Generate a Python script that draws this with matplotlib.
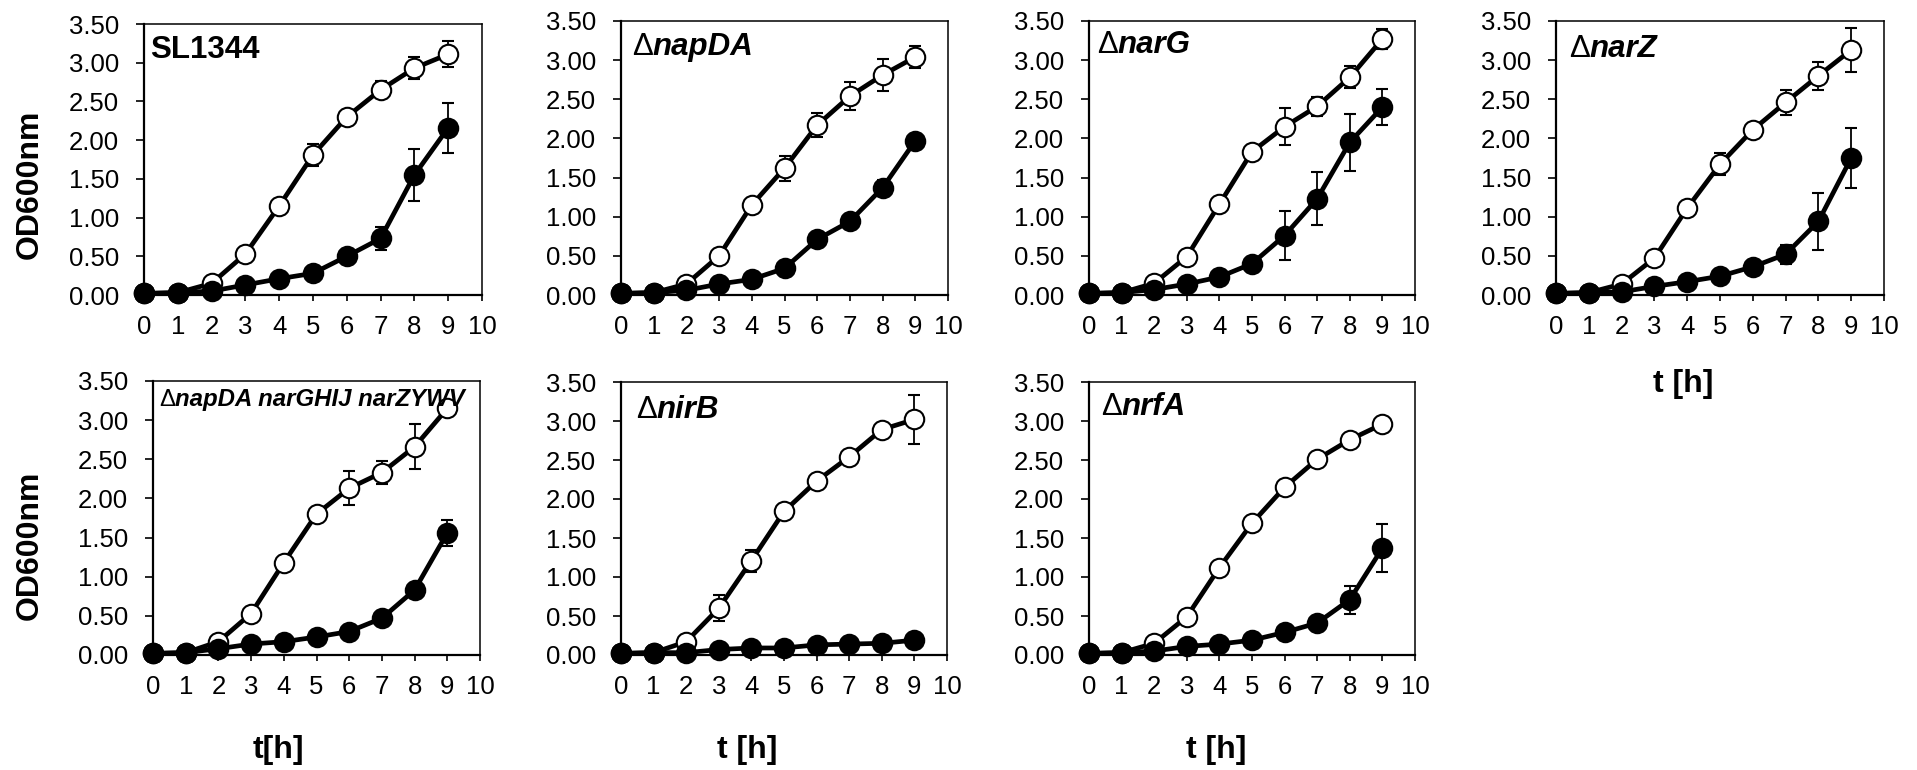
import matplotlib
matplotlib.use("Agg")
import matplotlib.pyplot as plt

plt.rcParams['font.family'] = ['Liberation Sans', 'DejaVu Sans']

time_h = [0, 1, 2, 3, 4, 5, 6, 7, 8, 9]

strain_names = ["SL1344", "napDA", "narG", "narZ", "napDA narGHIJ narZYWV", "nirB", "nrfA"]
strain_delta = [False, True, True, True, True, True, True]

open_sl1344 = [0.02, 0.03, 0.15, 0.53, 1.15, 1.81, 2.30, 2.65, 2.93, 3.11]
open_sl1344_err = [0.01, 0.01, 0.02, 0.03, 0.04, 0.14, 0.05, 0.11, 0.14, 0.17]
filled_sl1344 = [0.02, 0.03, 0.05, 0.13, 0.21, 0.28, 0.50, 0.73, 1.55, 2.16]
filled_sl1344_err = [0.01, 0.01, 0.01, 0.02, 0.03, 0.04, 0.10, 0.15, 0.33, 0.32]

open_napda = [0.02, 0.03, 0.14, 0.50, 1.15, 1.62, 2.17, 2.54, 2.81, 3.04]
open_napda_err = [0.01, 0.01, 0.02, 0.03, 0.03, 0.16, 0.15, 0.18, 0.21, 0.14]
filled_napda = [0.02, 0.03, 0.06, 0.14, 0.20, 0.34, 0.71, 0.94, 1.37, 1.97]
filled_napda_err = [0.01, 0.01, 0.01, 0.02, 0.03, 0.04, 0.05, 0.05, 0.10, 0.05]

open_narg = [0.02, 0.03, 0.15, 0.49, 1.16, 1.83, 2.15, 2.41, 2.78, 3.27]
open_narg_err = [0.01, 0.01, 0.02, 0.03, 0.03, 0.05, 0.24, 0.12, 0.14, 0.13]
filled_narg = [0.02, 0.03, 0.07, 0.14, 0.23, 0.40, 0.76, 1.23, 1.95, 2.40]
filled_narg_err = [0.01, 0.01, 0.01, 0.02, 0.03, 0.06, 0.31, 0.34, 0.36, 0.23]

open_narz = [0.02, 0.03, 0.14, 0.47, 1.11, 1.67, 2.11, 2.46, 2.80, 3.13]
open_narz_err = [0.01, 0.01, 0.02, 0.03, 0.04, 0.14, 0.04, 0.16, 0.18, 0.28]
filled_narz = [0.02, 0.03, 0.04, 0.11, 0.17, 0.24, 0.36, 0.52, 0.94, 1.75]
filled_narz_err = [0.01, 0.01, 0.01, 0.02, 0.02, 0.03, 0.04, 0.12, 0.36, 0.38]

open_triple = [0.02, 0.03, 0.17, 0.53, 1.18, 1.80, 2.13, 2.33, 2.66, 3.15]
open_triple_err = [0.01, 0.01, 0.02, 0.03, 0.03, 0.04, 0.22, 0.15, 0.29, 0.05]
filled_triple = [0.02, 0.03, 0.08, 0.14, 0.17, 0.23, 0.30, 0.47, 0.83, 1.56]
filled_triple_err = [0.01, 0.01, 0.01, 0.02, 0.02, 0.03, 0.04, 0.05, 0.05, 0.17]

open_nirb = [0.02, 0.03, 0.17, 0.60, 1.21, 1.84, 2.23, 2.54, 2.89, 3.02]
open_nirb_err = [0.01, 0.01, 0.02, 0.17, 0.14, 0.06, 0.04, 0.04, 0.04, 0.31]
filled_nirb = [0.02, 0.03, 0.03, 0.07, 0.09, 0.09, 0.13, 0.14, 0.15, 0.19]
filled_nirb_err = [0.01, 0.01, 0.01, 0.01, 0.01, 0.01, 0.02, 0.02, 0.02, 0.02]

open_nrfa = [0.02, 0.03, 0.15, 0.49, 1.12, 1.69, 2.15, 2.51, 2.76, 2.96]
open_nrfa_err = [0.01, 0.01, 0.02, 0.03, 0.03, 0.04, 0.06, 0.04, 0.04, 0.04]
filled_nrfa = [0.02, 0.03, 0.05, 0.11, 0.14, 0.19, 0.29, 0.41, 0.71, 1.37]
filled_nrfa_err = [0.01, 0.01, 0.01, 0.02, 0.02, 0.03, 0.08, 0.04, 0.18, 0.31]

open_series = [open_sl1344, open_napda, open_narg, open_narz, open_triple, open_nirb, open_nrfa]
open_errs = [open_sl1344_err, open_napda_err, open_narg_err, open_narz_err, open_triple_err, open_nirb_err, open_nrfa_err]
filled_series = [filled_sl1344, filled_napda, filled_narg, filled_narz, filled_triple, filled_nirb, filled_nrfa]
filled_errs = [filled_sl1344_err, filled_napda_err, filled_narg_err, filled_narz_err, filled_triple_err, filled_nirb_err, filled_nrfa_err]

x_ticks = [0, 1, 2, 3, 4, 5, 6, 7, 8, 9, 10]
y_ticks = [0.0, 0.5, 1.0, 1.5, 2.0, 2.5, 3.0, 3.5]
y_tick_labels = ["0.00", "0.50", "1.00", "1.50", "2.00", "2.50", "3.00", "3.50"]

W, H = 1917, 770
fig = plt.figure(figsize=(W / 100, H / 100), dpi=100)

# axes boxes in pixels: left, right, top, bottom
boxes = [
    (144, 482, 24, 295),
    (621, 948, 21, 295),
    (1089, 1415, 21, 295),
    (1556, 1884, 21, 295),
    (153, 480, 381, 655),
    (621, 947, 382, 655),
    (1089, 1415, 382, 655),
]
title_offsets = [(6, 34), (11, 34), (8, 32), (13, 36), (6, 25), (15, 36), (12, 33)]
title_sizes = [22.5, 22.5, 22.5, 22.5, 17.3, 22.5, 22.5]

for i, (l, r, t, b) in enumerate(boxes):
    ax = fig.add_axes([l / W, 1 - b / H, (r - l) / W, (b - t) / H])
    ax.errorbar(time_h, open_series[i], yerr=open_errs[i], color='black', lw=3.4,
                marker='o', ms=14, mfc='white', mec='black', mew=1.5,
                ecolor='black', elinewidth=1.3, capsize=4.5, capthick=1.3,
                clip_on=False, zorder=3)
    ax.errorbar(time_h, filled_series[i], yerr=filled_errs[i], color='black', lw=3.4,
                marker='o', ms=14, mfc='black', mec='black', mew=1.5,
                ecolor='black', elinewidth=1.3, capsize=4.5, capthick=1.3,
                clip_on=False, zorder=4)
    ax.set_xlim(0, 10)
    ax.set_ylim(0, 3.5)
    ax.set_xticks(x_ticks)
    ax.set_yticks(y_ticks)
    ax.set_yticklabels(y_tick_labels)
    ax.tick_params(axis='x', direction='out', length=4.5, width=1.2, labelsize=18.5, pad=10)
    ax.tick_params(axis='y', direction='out', length=6, width=1.2, labelsize=18.5, pad=12)
    for side in ['left', 'bottom']:
        ax.spines[side].set_linewidth(1.6)
    for side in ['top', 'right']:
        ax.spines[side].set_linewidth(1.1)

    dx, dy = title_offsets[i]
    fs = title_sizes[i]
    if strain_delta[i]:
        t1 = ax.annotate('Δ', xy=(0, 1), xycoords='axes fraction', xytext=(dx, -dy),
                         textcoords='offset pixels', ha='left', va='baseline', fontsize=fs, zorder=5)
        ax.annotate(strain_names[i], xy=(1, 0), xycoords=t1, ha='left', va='bottom',
                    fontsize=fs, fontweight='bold', fontstyle='italic', zorder=5)
    else:
        ax.annotate(strain_names[i], xy=(0, 1), xycoords='axes fraction', xytext=(dx, -dy),
                    textcoords='offset pixels', ha='left', va='baseline', fontsize=fs,
                    fontweight='bold', zorder=5)

# y labels
fig.text(30 / W, 1 - 184 / H, 'OD600nm', rotation=90, ha='center', va='center', fontsize=23, fontweight='bold')
fig.text(30 / W, 1 - 545 / H, 'OD600nm', rotation=90, ha='center', va='center', fontsize=23, fontweight='bold')

# x labels
fig.text(1683 / W, 1 - 384 / H, 't [h]', ha='center', va='center', fontsize=23, fontweight='bold')
fig.text(278 / W, 1 - 750 / H, 't[h]', ha='center', va='center', fontsize=23, fontweight='bold')
fig.text(747 / W, 1 - 750 / H, 't [h]', ha='center', va='center', fontsize=23, fontweight='bold')
fig.text(1216 / W, 1 - 750 / H, 't [h]', ha='center', va='center', fontsize=23, fontweight='bold')

fig.savefig('out.png', dpi=100)
